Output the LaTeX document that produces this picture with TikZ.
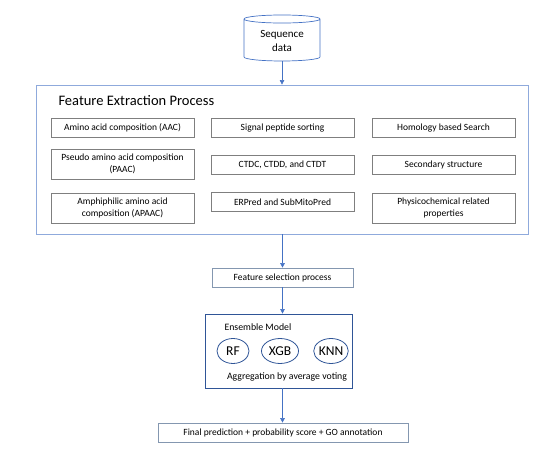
\documentclass[tikz,border=0pt]{standalone}
\usepackage{fontspec}
\setmainfont{Carlito}
\usetikzlibrary{shapes.geometric,arrows.meta}

\definecolor{lightframe}{HTML}{8FAADC}
\definecolor{flowblue}{HTML}{4472C4}
\definecolor{deepblue}{HTML}{2F5597}
\definecolor{featgrey}{HTML}{7F7F7F}
\definecolor{slate}{HTML}{8497B0}

\tikzstyle{feat}=[draw=featgrey,line width=0.7pt,align=center,minimum width=143pt,inner sep=1pt,font=\fontsize{9.5}{11.5}\selectfont]
\tikzstyle{stage}=[draw=slate,line width=0.7pt,align=center,inner sep=1pt,font=\fontsize{9.5}{11.5}\selectfont]
\tikzstyle{model}=[ellipse,draw=deepblue,line width=0.8pt,inner sep=0pt,minimum height=25pt,font=\fontsize{13.5}{15}\selectfont]
\tikzstyle{flow}=[draw=flowblue,line width=0.6pt,-{Triangle[length=4.5pt,width=4.5pt]}]

\begin{document}
\begin{tikzpicture}[x=1pt,y=-1pt]

   \useasboundingbox (0,0) rectangle (560,470);

   % input data
   \node[cylinder,shape border rotate=90,aspect=0.16,draw=flowblue,line width=0.7pt,
         minimum width=76pt,minimum height=46pt,align=center,
         font=\fontsize{11}{14}\selectfont] (seq) at (282,41) {Sequence\\data};

   % feature extraction frame
   \node[draw=lightframe,line width=0.8pt,minimum width=492pt,minimum height=149pt] (fep) at (282,159.5) {};
   \node[anchor=west,font=\fontsize{14.5}{16}\selectfont] (feptitle) at (55,101) {Feature Extraction Process};

   \node[feat,minimum height=19pt] (aac) at (122.5,128) {Amino acid composition (AAC)};
   \node[feat,minimum height=30pt] (paac) at (122.5,164) {Pseudo amino acid composition\\(PAAC)};
   \node[feat,minimum height=30pt] (apaac) at (122.5,208) {Amphiphilic amino acid\\composition (APAAC)};

   \node[feat,minimum height=19pt] (sig) at (282.5,128) {Signal peptide sorting};
   \node[feat,minimum height=19pt] (ctd) at (282.5,165) {CTDC, CTDD, and CTDT};
   \node[feat,minimum height=19pt] (erp) at (282.5,202) {ERPred and SubMitoPred};

   \node[feat,minimum height=19pt] (hom) at (443.5,128) {Homology based Search};
   \node[feat,minimum height=19pt] (sec) at (443.5,165) {Secondary structure};
   \node[feat,minimum height=30pt] (phys) at (443.5,208) {Physicochemical related\\properties};

   % selection
   \node[stage,minimum width=141pt,minimum height=19pt] (fsel) at (282.5,277.5) {Feature selection process};

   % ensemble
   \node[draw=deepblue,line width=0.8pt,minimum width=147pt,minimum height=74pt] (ens) at (278.5,351) {};
   \node[anchor=west,font=\fontsize{9.8}{11}\selectfont] (enslabel) at (221,327) {Ensemble Model};
   \node[model,minimum width=32pt] (rf) at (233,351) {RF};
   \node[model,minimum width=37pt] (xgb) at (280,351) {XGB};
   \node[model,minimum width=33pt] (knn) at (331,351) {KNN};
   \node[font=\fontsize{9.8}{11}\selectfont] (agg) at (287,377) {Aggregation by average voting};

   % output
   \node[stage,minimum width=250pt,minimum height=19pt] (final) at (283,432.5) {Final prediction + probability score + GO annotation};

   \draw[flow] (seq.bottom) -- (seq.bottom |- fep.north);
   \draw[flow] (fep.south -| fsel) -- (fsel);
   \draw[flow] (fsel) -- (fsel |- ens.north);
   \draw[flow] (ens.south -| fsel) -- (fsel |- final.north);

\end{tikzpicture}
\end{document}
